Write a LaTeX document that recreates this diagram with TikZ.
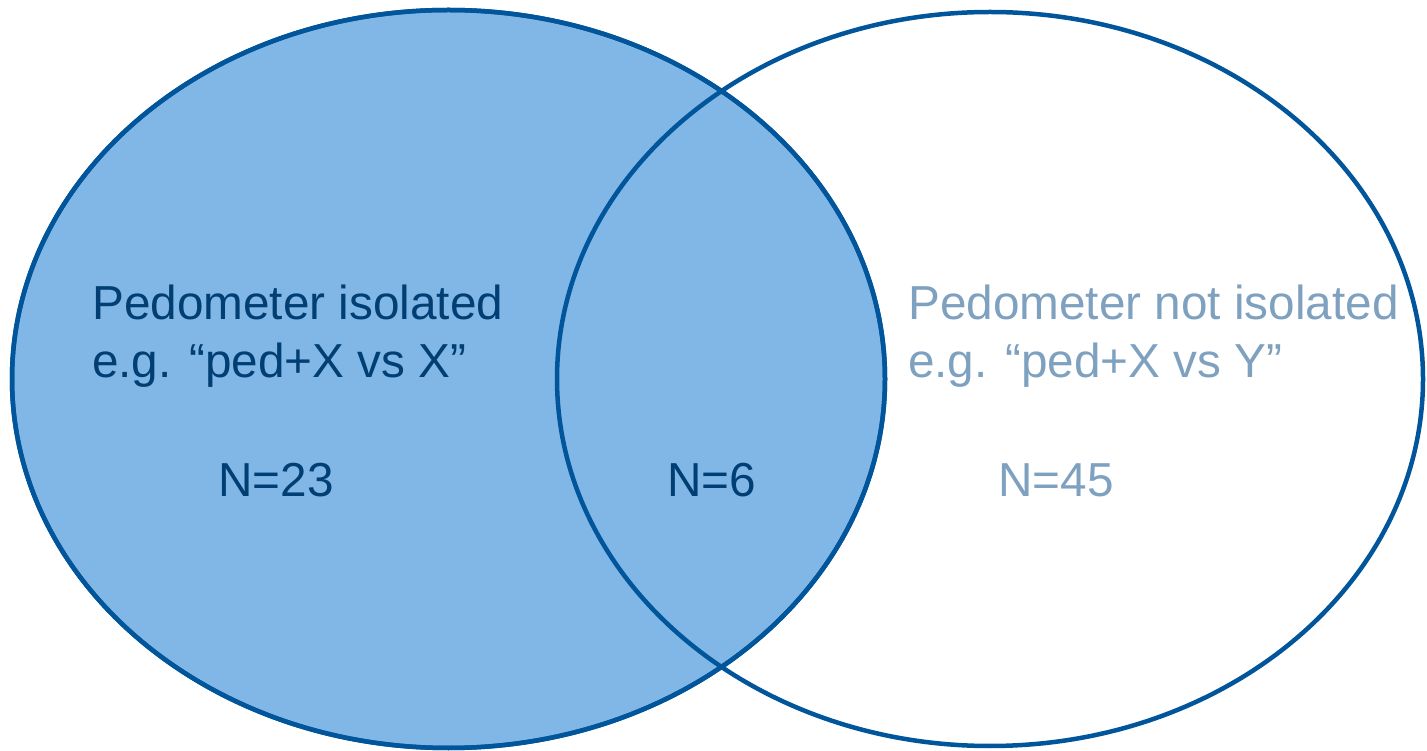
\documentclass[tikz,border=0pt]{standalone}
\usepackage{fontspec}
\setmainfont{Liberation Sans}
\usetikzlibrary{shapes.geometric}
\definecolor{edge}{HTML}{00559B}
\definecolor{fillblue}{HTML}{80B7E6}
\definecolor{darktext}{HTML}{003E73}
\definecolor{lighttext}{HTML}{7FA1C0}
\tikzset{
  venn/.style={ellipse, draw=edge, line width=4.5pt, inner sep=0pt},
  lbl/.style={anchor=base west, align=left, inner sep=0pt, font=\fontsize{47.7}{58}\selectfont},
}
\begin{document}
\begin{tikzpicture}[x=1pt,y=1pt]
\useasboundingbox (0,0) rectangle (1427,750);
\node[venn, fill=fillblue, minimum width=873pt, minimum height=738pt] (A) at (448.5,371) {};
\node[venn, minimum width=866pt, minimum height=734pt] (B) at (990,371) {};
\draw[edge, line width=4.5pt] (A.center) ellipse [x radius=436.5, y radius=369];
\node[lbl, text=darktext] (t1) at (92,372) {Pedometer isolated\\e.g. “ped+X vs X”};
\node[lbl, text=lighttext] (t2) at (908,372) {Pedometer not isolated\\e.g. “ped+X vs Y”};
\node[lbl, text=darktext] (n1) at (218,253) {N=23};
\node[lbl, text=darktext] (n2) at (667,253) {N=6};
\node[lbl, text=lighttext] (n3) at (998,253) {N=45};
\end{tikzpicture}
\end{document}
